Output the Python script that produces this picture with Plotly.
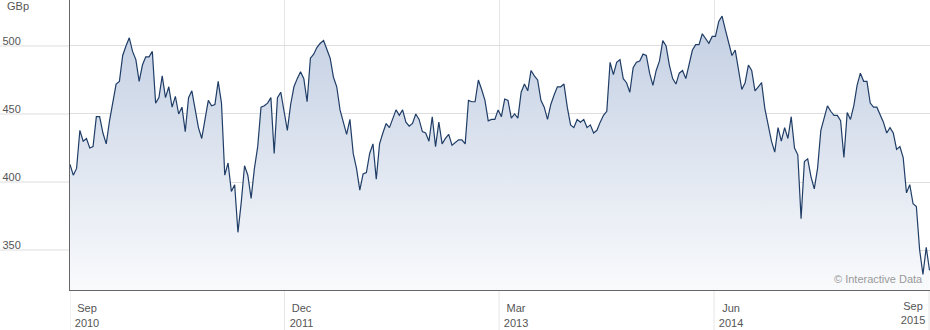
import pandas as pd
import plotly.graph_objects as go

# ---- data (weekly closes, GBp) ----
START_DATE = "2010-09-01"
PRICES = [
    413, 405, 410, 438, 430, 432, 425, 426, 448, 448, 436, 428, 445, 458, 472, 474,
    493, 500, 506, 496, 490, 474, 486, 492, 492, 496, 458, 462, 478, 462, 470, 455,
    463,
    450, 455, 437, 462, 467, 452, 440, 432, 446, 460, 456, 457, 474, 458, 405, 414,
    393, 398, 363, 385, 412, 405, 388, 410, 426, 455, 456, 458, 462, 421, 462, 466,
    452, 438, 457, 470, 476, 481, 476, 459, 491, 494, 499, 502, 504, 498, 491, 477,
    470, 453, 444, 435, 446, 421, 410, 394, 406, 407, 421, 428, 402, 428, 436, 443,
    440,
    446, 453, 449, 453, 444, 441, 443, 450, 446, 437, 436, 430, 448, 426, 444, 428,
    432, 435, 427, 429, 431, 431, 428, 460, 459, 459, 475, 468, 460, 445, 446, 446,
    453,
    448, 461, 460, 447, 450, 447, 466, 472, 467, 482, 478, 475, 460, 455, 446, 457,
    464, 470, 470, 472, 455, 442, 440, 446, 444, 446, 440, 442, 436, 438, 444, 449,
    452, 488, 479, 488, 490, 476, 473, 466, 484, 488, 489, 494, 493, 480, 471, 482,
    489, 504, 500, 486, 476, 472, 480, 482, 476, 486, 497, 501, 501, 509, 505, 502,
    507,
    507, 518, 522, 512, 503, 493, 497, 483, 468, 473, 486, 482, 467, 470, 473, 454,
    441, 430, 422, 440, 430, 440, 432, 448, 425, 420, 373, 415, 417, 404, 395, 410,
    438, 448, 456, 452, 449, 449, 445, 418, 451, 446, 456, 471, 480, 474, 474, 458,
    455, 455, 450, 444, 436, 440, 436, 424, 426, 418, 392, 398, 384, 382, 350, 332,
    352, 335,
]
DATES = pd.date_range(START_DATE, periods=len(PRICES), freq="7D")

TICK_DATES = ["2010-09-01", "2011-12-01", "2013-03-01", "2014-06-01", "2015-09-01"]
TICK_TEXT = ["Sep<br>2010", "Dec<br>2011", "Mar<br>2013", "Jun<br>2014", "Sep<br>2015"]
Y_TICKS = [350, 400, 450, 500]
Y_RANGE = [320.6, 533.8]
X_RANGE = ["2010-09-01", "2015-09-03"]
UNIT = "GBp"
CREDIT = "© Interactive Data"

W, H = 930, 330
ML, MB = 70, 40
PW, PH = W - ML, H - MB

FONT = "Arial, Liberation Sans, sans-serif"
TXT = "#555555"
GRID = "#dedede"
VGRID = "#e6e6e6"
AXIS = "#666666"

fig = go.Figure()
fig.add_trace(go.Scatter(
    x=DATES, y=PRICES, mode="lines",
    line=dict(color="#1f3d66", width=1.2),
    fill="tozeroy",
    fillgradient=dict(type="vertical",
                      colorscale=[[0, "#f9fafc"], [1, "#bfcce1"]],
                      start=Y_RANGE[0], stop=Y_RANGE[1]),
    hoverinfo="x+y", showlegend=False,
))

# Extensions of the grid lines outside the plotting area
shapes = []
for v in Y_TICKS:
    shapes.append(dict(type="line", xref="paper", yref="y",
                       x0=-ML / PW, x1=0, y0=v, y1=v,
                       line=dict(color=GRID, width=1), layer="below"))
for d in TICK_DATES:
    shapes.append(dict(type="line", xref="x", yref="paper",
                       x0=d, x1=d, y0=-MB / PH, y1=0,
                       line=dict(color=VGRID, width=1), layer="below"))

fig.update_layout(
    width=W, height=H,
    margin=dict(l=ML, r=0, t=0, b=MB, pad=0),
    paper_bgcolor="white", plot_bgcolor="white",
    font=dict(family=FONT, size=11, color=TXT),
    shapes=shapes,
    xaxis=dict(
        type="date", range=X_RANGE,
        tickvals=TICK_DATES[:-1], ticktext=TICK_TEXT[:-1],
        showgrid=True, gridcolor=VGRID, gridwidth=1,
        showline=True, linecolor=AXIS, linewidth=1,
        ticks="", zeroline=False,
        ticklabelshift=17, ticklabelstandoff=8,
        tickfont=dict(size=11, color=TXT),
        fixedrange=True,
    ),
    xaxis2=dict(
        type="date", range=X_RANGE, overlaying="x", anchor="y",
        tickvals=TICK_DATES[-1:], ticktext=TICK_TEXT[-1:],
        showgrid=True, gridcolor=VGRID, gridwidth=1,
        showline=False, ticks="", zeroline=False,
        ticklabelshift=-16, ticklabelstandoff=8,
        tickfont=dict(size=11, color=TXT),
        side="bottom", fixedrange=True,
    ),
    yaxis=dict(
        range=Y_RANGE, tickvals=Y_TICKS,
        showgrid=True, gridcolor=GRID, gridwidth=1,
        showline=True, linecolor=AXIS, linewidth=1,
        ticks="", zeroline=False,
        ticklabelstandoff=46, ticklabelshift=-5,
        tickfont=dict(size=11, color=TXT),
        fixedrange=True,
    ),
    annotations=[
        dict(text=UNIT, xref="paper", yref="paper", x=0, y=1,
             xanchor="left", yanchor="top", xshift=-65, yshift=2,
             showarrow=False, font=dict(size=11, color=TXT)),
        dict(text=CREDIT, xref="paper", yref="paper", x=1, y=0,
             xanchor="right", yanchor="bottom", xshift=-5, yshift=3,
             showarrow=False, font=dict(size=11, color="#9a9a9a")),
    ],
)
# an invisible trace so the second x axis is drawn
fig.add_trace(go.Scatter(x=[], y=[], xaxis="x2", showlegend=False))

fig.write_html("out.html", config={"displayModeBar": False})
